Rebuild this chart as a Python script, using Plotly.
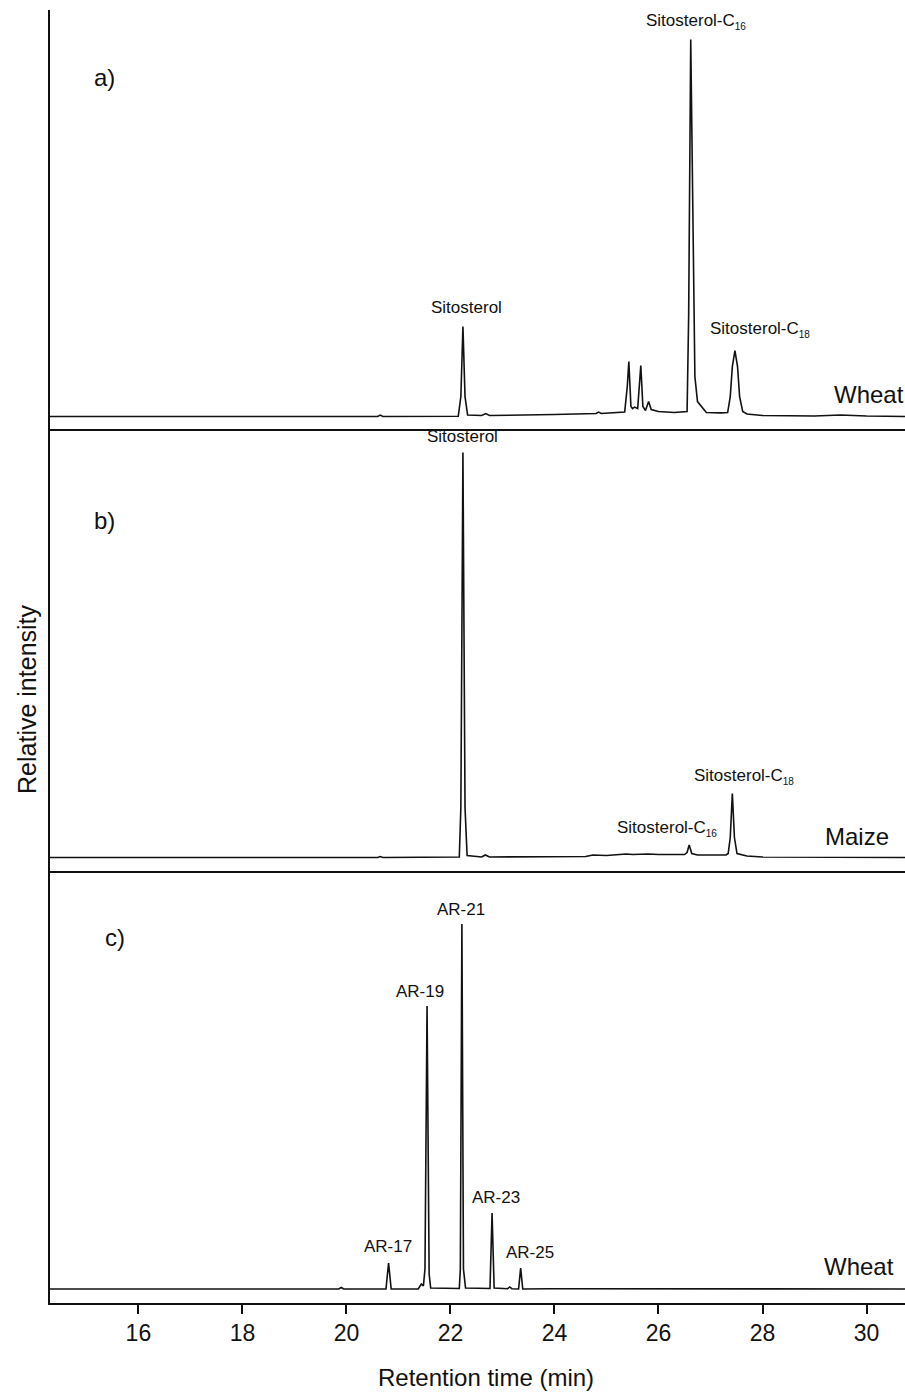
import plotly.graph_objects as go

# ---------------- data (retention time in min, relative intensity) ----------------
wheat_sterol_t = [14.3, 19.3, 20.6, 20.65, 20.7, 22.15, 22.2, 22.24, 22.28, 22.33, 22.6, 22.68, 22.75,
                  24.0, 24.8, 24.85, 24.9, 25.35, 25.4, 25.43, 25.47, 25.5, 25.54, 25.6, 25.63, 25.66,
                  25.7, 25.75, 25.81, 25.86, 26.0, 26.3, 26.55, 26.58, 26.62, 26.66, 26.7, 26.75, 26.85,
                  26.92, 27.2, 27.33, 27.38, 27.42, 27.47, 27.52, 27.56, 27.62, 27.7, 28.0, 29.0, 29.5,
                  30.0, 30.74]
wheat_sterol_y = [0, 0.3, 0, 1.5, 0, 0.3, 20, 90, 20, 1.5, 1, 3, 1,
                  2, 3, 4.5, 3, 4.5, 30, 55, 10, 8, 9.5, 8, 30, 51,
                  10, 6, 15, 7, 5, 4, 5, 100, 377, 200, 40, 15, 8,
                  4, 3.7, 4, 20, 50, 66, 50, 20, 5, 2.5, 1, 0.5, 1.5,
                  0.5, 0]

maize_sterol_t = [14.3, 20.6, 20.65, 20.7, 22.17, 22.2, 22.24, 22.28, 22.32, 22.6, 22.67, 22.75,
                  24.6, 24.74, 25.0, 25.38, 25.5, 25.8, 26.0, 26.5, 26.55, 26.59, 26.64, 26.75,
                  27.3, 27.34, 27.38, 27.42, 27.46, 27.51, 27.7, 28.0, 30.74]
maize_sterol_y = [0, 0, 1, 0, 0.5, 50, 405, 50, 2, 0.5, 2.5, 0.5,
                  1, 2.5, 2, 3.5, 3, 3.5, 3, 3, 5, 12.5, 4, 2.5,
                  2.5, 4, 20, 64, 20, 4, 1.5, 0.5, 0]

wheat_ar_t = [14.3, 19.85, 19.9, 19.95, 20.76, 20.81, 20.86, 21.38, 21.44, 21.48, 21.51, 21.55,
              21.59, 21.62, 22.17, 22.19, 22.22, 22.25, 22.29, 22.6, 22.76, 22.8, 22.84, 23.1,
              23.14, 23.18, 23.31, 23.35, 23.39, 23.9, 30.74]
wheat_ar_y = [0, 0, 1.5, 0, 0, 26, 0, 0, 5, 3, 20, 283,
              15, 1, 0.5, 20, 365, 20, 1, 0.5, 0.5, 76, 1, 0.3,
              2, 0.3, 0, 21, 0, 0.3, 0]

x_ticks = [16, 18, 20, 22, 24, 26, 28, 30]
x_range = [14.3, 30.74]

FONT = "Liberation Sans, Arial, sans-serif"
BLK = "#111111"

fig = go.Figure()
fig.add_trace(go.Scatter(x=wheat_sterol_t, y=wheat_sterol_y, mode="lines",
                         line=dict(color=BLK, width=1.6), xaxis="x", yaxis="y", showlegend=False))
fig.add_trace(go.Scatter(x=maize_sterol_t, y=maize_sterol_y, mode="lines",
                         line=dict(color=BLK, width=1.6), xaxis="x2", yaxis="y2", showlegend=False))
fig.add_trace(go.Scatter(x=wheat_ar_t, y=wheat_ar_y, mode="lines",
                         line=dict(color=BLK, width=1.6), xaxis="x3", yaxis="y3", showlegend=False))

# panel domains (paper fractions)
dom_a = [0.6759, 1.0]
dom_b = [0.3341, 0.6759]
dom_c = [0.0, 0.3341]

xcommon = dict(range=x_range, showgrid=False, zeroline=False, showline=True,
               linecolor=BLK, linewidth=1.6)
ycommon = dict(showgrid=False, zeroline=False, showline=True, linecolor=BLK,
               linewidth=1.6, showticklabels=False, ticks="")

fig.update_layout(
    width=905, height=1392,
    margin=dict(l=50, r=0, t=10, b=89),
    paper_bgcolor="white", plot_bgcolor="white",
    font=dict(family=FONT, color=BLK, size=17),
    xaxis=dict(**xcommon, anchor="y", showticklabels=False, ticks=""),
    yaxis=dict(**ycommon, domain=dom_a, anchor="x", range=[-12.5, 406.5]),
    xaxis2=dict(**xcommon, anchor="y2", showticklabels=False, ticks=""),
    yaxis2=dict(**ycommon, domain=dom_b, anchor="x2", range=[-13.5, 428.5]),
    xaxis3=dict(**xcommon, anchor="y3", tickvals=x_ticks, ticks="outside", ticklen=9,
                tickwidth=1.6, tickcolor=BLK, tickfont=dict(size=23, family=FONT, color=BLK)),
    yaxis3=dict(**ycommon, domain=dom_c, anchor="x3", range=[-14, 418]),
)

def sub(base, s):
    return base + "<sub><span style='font-size:10px'>" + s + "</span></sub>"

ann = [
    # panel a
    dict(x=15.35, y=338.7, xref="x", yref="y", text="a)", size=24, xa="center"),
    dict(x=22.30, y=109, xref="x", yref="y", text="Sitosterol", size=17, xa="center"),
    dict(x=25.73, y=394.7, xref="x", yref="y", text=sub("Sitosterol-C", "16"), size=17, xa="left"),
    dict(x=26.95, y=86.7, xref="x", yref="y", text=sub("Sitosterol-C", "18"), size=17, xa="left"),
    dict(x=29.33, y=21.7, xref="x", yref="y", text="Wheat", size=24, xa="left"),
    # panel b
    dict(x=15.35, y=337.3, xref="x2", yref="y2", text="b)", size=24, xa="center"),
    dict(x=22.24, y=421, xref="x2", yref="y2", text="Sitosterol", size=17, xa="center"),
    dict(x=26.64, y=81.3, xref="x2", yref="y2", text=sub("Sitosterol-C", "18"), size=17, xa="left"),
    dict(x=25.16, y=29.3, xref="x2", yref="y2", text=sub("Sitosterol-C", "16"), size=17, xa="left"),
    dict(x=29.16, y=21.3, xref="x2", yref="y2", text="Maize", size=24, xa="left"),
    # panel c
    dict(x=15.55, y=352, xref="x3", yref="y3", text="c)", size=24, xa="center"),
    dict(x=20.80, y=42, xref="x3", yref="y3", text="AR-17", size=17, xa="center"),
    dict(x=21.41, y=298, xref="x3", yref="y3", text="AR-19", size=17, xa="center"),
    dict(x=22.21, y=380, xref="x3", yref="y3", text="AR-21", size=17, xa="center"),
    dict(x=22.87, y=91, xref="x3", yref="y3", text="AR-23", size=17, xa="center"),
    dict(x=23.52, y=36, xref="x3", yref="y3", text="AR-25", size=17, xa="center"),
    dict(x=29.14, y=22, xref="x3", yref="y3", text="Wheat", size=24, xa="left"),
]
for a in ann:
    fig.add_annotation(x=a["x"], y=a["y"], xref=a["xref"], yref=a["yref"], text=a["text"],
                       showarrow=False, xanchor=a["xa"], yanchor="middle",
                       font=dict(size=a["size"], family=FONT, color=BLK))

# axis titles
fig.add_annotation(x=-0.0269, y=0.4664, xref="paper", yref="paper", text="Relative intensity",
                   textangle=-90, showarrow=False, xanchor="center", yanchor="middle",
                   font=dict(size=25, family=FONT, color=BLK))
fig.add_annotation(x=0.5105, y=-0.0573, xref="paper", yref="paper", text="Retention time (min)",
                   showarrow=False, xanchor="center", yanchor="middle",
                   font=dict(size=24, family=FONT, color=BLK))

fig.write_html("out.html", config={"displayModeBar": False},
               post_script="document.body.style.margin='0';document.body.style.overflow='hidden';")
